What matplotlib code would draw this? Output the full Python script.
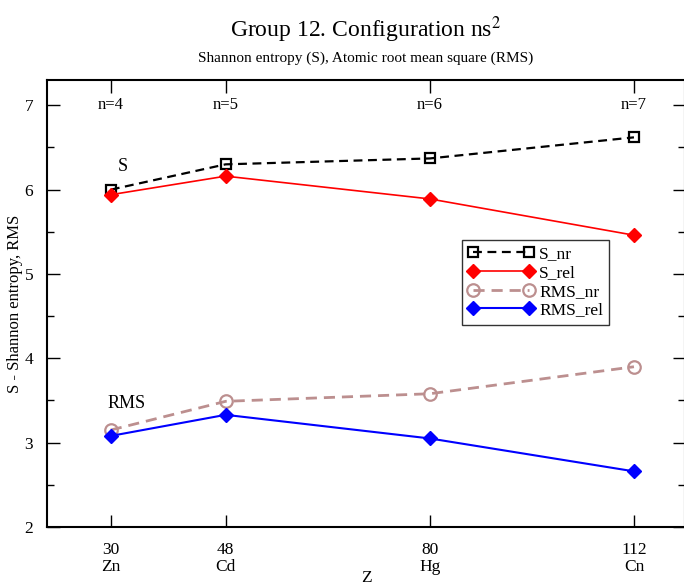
import numpy as np
import matplotlib.pyplot as plt
from matplotlib.ticker import MultipleLocator

plt.rcParams['font.family'] = ['Liberation Serif', 'DejaVu Serif']
plt.rcParams['mathtext.fontset'] = 'stix'

Z = [30, 48, 80, 112]
elements = ['Zn', 'Cd', 'Hg', 'Cn']
shells = ['n=4', 'n=5', 'n=6', 'n=7']

S_nr = [6.00, 6.30, 6.37, 6.62]
S_rel = [5.94, 6.16, 5.89, 5.46]
RMS_nr = [3.15, 3.49, 3.58, 3.90]
RMS_rel = [3.08, 3.33, 3.05, 2.66]

fig = plt.figure(figsize=(6.84, 5.87), dpi=100)
ax = fig.add_axes([47/684, 60/587, 638/684, 447/587])

ax.plot(Z, S_nr, color='black', ls=(0, (4, 2.5)), lw=1.6, marker='s', ms=7.5,
        mfc='none', mec='black', mew=1.6, label='S_nr')
ax.plot(Z, S_rel, color='red', lw=1.2, marker='D', ms=7.5,
        mfc='red', mec='red', label='S_rel')
ax.plot(Z, RMS_nr, color='#bc8f8f', ls=(0, (4, 2.5)), lw=2.0, marker='o', ms=9,
        mfc='none', mec='#bc8f8f', mew=1.6, label='RMS_nr')
ax.plot(Z, RMS_rel, color='blue', lw=1.5, marker='D', ms=7.5,
        mfc='blue', mec='blue', label='RMS_rel')

for z, n in zip(Z, shells):
    ax.text(z, 7.0, n, ha='center', va='center', fontsize=12)
ax.text(31.9, 6.28, 'S', ha='center', va='center', fontsize=13)
ax.text(32.5, 3.47, 'RMS', ha='center', va='center', fontsize=13)

ax.set_xlim(20, 120)
ax.set_ylim(2, 7.3)
ax.set_xticks(Z)
ax.set_xticklabels([f'{z}\n{e}' for z, e in zip(Z, elements)], linespacing=1.05)
ax.yaxis.set_major_locator(MultipleLocator(1))
ax.yaxis.set_minor_locator(MultipleLocator(0.5))
ax.tick_params(which='both', direction='in', top=True, right=True, labelsize=12.5)
ax.tick_params(which='major', length=9, width=1.0)
ax.tick_params(which='minor', length=5, width=1.0)
ax.tick_params(axis='y', pad=10)
ax.tick_params(axis='x', pad=11)
for sp in ax.spines.values():
    sp.set_linewidth(1.5)

ax.set_xlabel('Z', fontsize=12.5)
ax.xaxis.set_label_coords(0.5, -(578 - 527) / 447)
ax.xaxis.label.set_va('center')
ax.set_ylabel('S - Shannon entropy, RMS', fontsize=12)
ax.yaxis.set_label_coords(-(47 - 15) / 638, 0.5)
ax.yaxis.label.set_va('center')

fig.text(366/684, 1 - 30/587, 'Group 12. Configuration ns$^2$', ha='center', va='center', fontsize=17)
fig.text(366/684, 1 - 58/587, 'Shannon entropy (S), Atomic root mean square (RMS)',
         ha='center', va='center', fontsize=11)

leg = ax.legend(loc='upper left', bbox_to_anchor=(0.65, 0.642), numpoints=2,
                handlelength=3.8, fontsize=12.5, frameon=True, fancybox=False,
                borderpad=0.35, labelspacing=0.15, handletextpad=0.3,
                borderaxespad=0)
leg.get_frame().set_edgecolor('black')
leg.get_frame().set_linewidth(1.0)

fig.savefig('out.png', dpi=100)
